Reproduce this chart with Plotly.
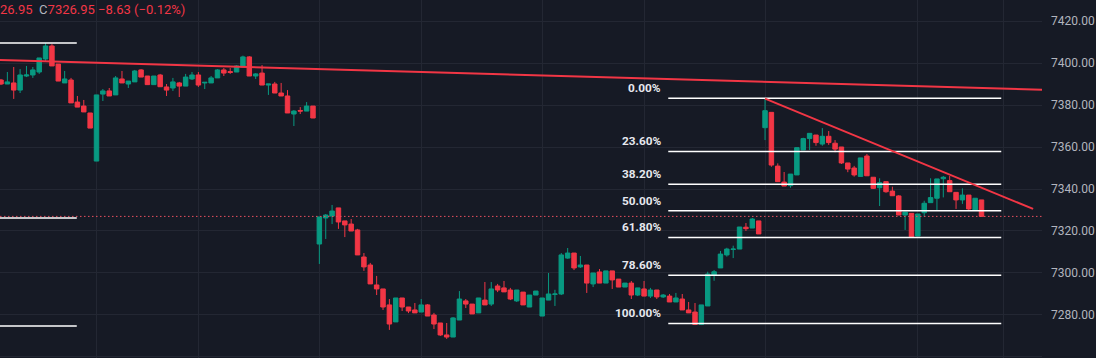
import plotly.graph_objects as go

# ---------------- data ----------------
opens = [7391.9, 7390.0, 7390.5, 7387.1, 7393.8, 7394.3, 7395.7, 7401.9, 7408.1, 7399.5,
         7390.5, 7391.9, 7381.4, 7379.5, 7376.2, 7353.3, 7385.2, 7386.7, 7384.8, 7392.4,
         7390.0, 7391.0, 7396.7, 7393.8, 7389.7, 7394.3, 7388.6, 7388.1, 7390.5, 7389.0,
         7392.4, 7394.3, 7390.5, 7390.5, 7392.9, 7396.7, 7395.9, 7395.7, 7398.1, 7402.9,
         7393.8, 7395.2, 7389.5, 7390.0, 7385.7, 7384.3, 7375.7, 7377.4, 7377.1, 7379.5,
         7313.8, 7326.2, 7327.1, 7331.0, 7324.8, 7323.3, 7320.5, 7307.6, 7303.8, 7294.3,
         7292.4, 7284.8, 7276.7, 7288.1, 7283.8, 7282.4, 7281.4, 7284.8, 7280.0, 7276.2,
         7270.5, 7269.5, 7277.6, 7286.7, 7285.2, 7281.0, 7287.1, 7285.2, 7293.8, 7292.9,
         7291.9, 7286.7, 7290.9, 7283.8, 7289.5, 7279.5, 7287.1, 7289.8, 7290.0, 7307.1,
         7309.5, 7302.9, 7303.8, 7294.8, 7300.5, 7295.2, 7301.0, 7297.1, 7293.3, 7295.2,
         7289.5, 7292.4, 7289.0, 7291.9, 7288.6, 7289.0, 7286.2, 7287.6, 7282.4, 7281.4,
         7275.5, 7284.3, 7299.0, 7302.4, 7308.6, 7311.2, 7311.4, 7321.8, 7321.4, 7324.8,
         7369.2, 7376.5, 7350.9, 7343.3, 7341.6, 7346.7, 7358.6, 7364.0, 7365.7, 7361.4,
         7365.1, 7361.8, 7360.0, 7352.4, 7350.0, 7346.0, 7355.7, 7345.6, 7340.6, 7343.5,
         7339.0, 7336.7, 7327.6, 7328.4, 7317.6, 7328.7, 7333.5, 7335.6, 7344.9, 7344.0,
         7338.4, 7334.8, 7337.1, 7330.0, 7334.8]
highs = [7392.4, 7395.7, 7398.1, 7397.1, 7398.6, 7398.1, 7402.4, 7409.5, 7409.0, 7399.5,
         7396.2, 7392.9, 7384.3, 7382.4, 7376.2, 7384.8, 7387.6, 7388.1, 7393.8, 7396.2,
         7391.4, 7396.7, 7397.1, 7393.8, 7393.8, 7394.8, 7390.0, 7392.9, 7391.0, 7394.8,
         7395.7, 7395.7, 7390.8, 7393.8, 7397.1, 7397.6, 7397.6, 7399.0, 7403.5, 7403.3,
         7395.2, 7399.0, 7390.0, 7391.0, 7390.5, 7387.1, 7377.6, 7379.0, 7381.4, 7379.5,
         7326.7, 7328.1, 7332.4, 7331.0, 7324.8, 7325.7, 7321.0, 7309.5, 7304.8, 7298.6,
         7292.4, 7287.6, 7288.1, 7288.1, 7283.8, 7285.7, 7287.6, 7285.2, 7281.0, 7276.2,
         7276.2, 7279.0, 7291.4, 7287.6, 7285.2, 7288.1, 7295.7, 7295.7, 7294.8, 7296.2,
         7292.9, 7291.9, 7290.9, 7289.5, 7291.4, 7288.1, 7300.0, 7292.0, 7309.5, 7311.9,
         7309.5, 7308.1, 7303.8, 7300.0, 7301.9, 7301.0, 7301.0, 7297.1, 7295.2, 7296.2,
         7292.9, 7296.2, 7292.9, 7291.9, 7290.0, 7290.0, 7290.5, 7290.0, 7286.2, 7285.7,
         7284.8, 7300.6, 7301.4, 7310.5, 7312.0, 7313.0, 7321.9, 7323.8, 7326.2, 7324.8,
         7383.2, 7376.5, 7352.2, 7348.1, 7347.1, 7359.7, 7364.4, 7366.5, 7365.7, 7369.0,
         7367.6, 7363.3, 7360.0, 7352.4, 7351.0, 7354.8, 7356.7, 7345.6, 7345.1, 7343.5,
         7341.1, 7337.1, 7329.0, 7328.4, 7328.1, 7334.4, 7345.1, 7344.8, 7346.2, 7346.2,
         7338.4, 7340.3, 7337.1, 7335.6, 7334.8]
lows = [7389.5, 7390.0, 7382.9, 7385.7, 7393.3, 7392.9, 7394.8, 7400.5, 7398.6, 7391.4,
        7390.5, 7381.0, 7379.0, 7376.7, 7369.0, 7353.3, 7381.9, 7384.3, 7384.8, 7390.5,
        7388.1, 7391.0, 7393.3, 7389.7, 7389.7, 7388.7, 7384.3, 7386.7, 7383.8, 7389.0,
        7391.9, 7388.6, 7387.6, 7390.5, 7392.9, 7393.8, 7394.8, 7395.7, 7398.1, 7393.8,
        7392.4, 7389.5, 7384.8, 7385.7, 7384.3, 7376.2, 7370.0, 7375.7, 7377.1, 7373.8,
        7304.3, 7316.2, 7323.3, 7321.0, 7317.1, 7320.0, 7308.6, 7301.0, 7294.8, 7289.5,
        7282.4, 7272.9, 7276.7, 7281.9, 7280.9, 7281.0, 7281.4, 7279.5, 7273.3, 7270.0,
        7268.6, 7269.5, 7277.6, 7283.3, 7280.5, 7281.0, 7284.8, 7284.3, 7290.9, 7291.0,
        7287.1, 7286.2, 7284.8, 7283.8, 7289.5, 7279.5, 7287.1, 7284.3, 7289.5, 7306.7,
        7301.4, 7302.4, 7290.5, 7293.3, 7295.2, 7295.2, 7292.4, 7293.3, 7293.3, 7287.6,
        7289.0, 7289.0, 7288.1, 7287.6, 7288.1, 7286.2, 7286.2, 7282.4, 7281.0, 7275.2,
        7275.2, 7284.3, 7296.3, 7302.4, 7307.8, 7307.1, 7311.4, 7320.0, 7321.4, 7318.6,
        7363.3, 7350.6, 7343.5, 7341.4, 7340.6, 7346.7, 7358.6, 7358.6, 7360.6, 7360.6,
        7361.0, 7357.5, 7351.9, 7348.0, 7345.9, 7346.0, 7346.3, 7340.0, 7331.9, 7338.2,
        7336.8, 7327.6, 7320.5, 7317.3, 7317.6, 7326.8, 7333.5, 7330.0, 7336.0, 7338.7,
        7330.5, 7332.9, 7330.0, 7330.0, 7326.95]
closes = [7390.0, 7391.0, 7387.1, 7394.3, 7394.3, 7396.7, 7402.4, 7408.1, 7398.6, 7391.4,
          7392.4, 7381.0, 7379.0, 7376.7, 7369.0, 7384.8, 7386.7, 7384.3, 7392.9, 7390.5,
          7391.4, 7396.2, 7393.3, 7389.7, 7393.8, 7388.7, 7387.1, 7391.0, 7389.0, 7393.3,
          7394.3, 7389.5, 7390.8, 7392.9, 7396.7, 7395.2, 7395.5, 7398.6, 7402.9, 7393.8,
          7394.8, 7389.5, 7390.0, 7385.7, 7384.3, 7376.2, 7377.1, 7377.1, 7379.5, 7373.8,
          7326.7, 7327.6, 7329.5, 7324.3, 7322.9, 7320.0, 7308.6, 7302.9, 7294.8, 7292.4,
          7283.8, 7275.7, 7288.1, 7283.8, 7281.9, 7281.0, 7284.8, 7279.5, 7275.7, 7270.5,
          7269.5, 7278.6, 7287.6, 7285.2, 7280.5, 7288.1, 7284.8, 7292.4, 7291.9, 7291.0,
          7287.6, 7291.9, 7284.8, 7289.5, 7291.4, 7288.1, 7290.0, 7290.0, 7308.6, 7309.5,
          7302.4, 7303.8, 7295.2, 7300.0, 7295.2, 7301.0, 7296.7, 7293.3, 7295.2, 7289.5,
          7292.9, 7289.0, 7291.9, 7288.6, 7289.5, 7286.2, 7288.1, 7282.4, 7281.0, 7275.5,
          7284.8, 7299.5, 7300.6, 7309.0, 7311.4, 7311.4, 7321.9, 7321.1, 7325.7, 7318.6,
          7377.3, 7351.4, 7343.5, 7341.4, 7347.1, 7359.7, 7364.0, 7366.5, 7362.1, 7365.1,
          7362.1, 7359.0, 7352.4, 7349.5, 7346.7, 7354.8, 7346.3, 7340.3, 7343.0, 7338.7,
          7336.8, 7327.6, 7329.0, 7317.3, 7328.1, 7333.2, 7335.9, 7344.8, 7345.6, 7338.7,
          7334.8, 7337.1, 7330.5, 7335.6, 7326.95]
bar_index = list(range(1, len(closes) + 1))

y_ticks = [7260, 7280, 7300, 7320, 7340, 7360, 7380, 7400, 7420]
time_grid = [16, 32, 51, 67, 86, 102, 121, 145, 158.4]

fib_high = 7383.2
fib_low = 7276.0
fib_ratios = [0.0, 0.236, 0.382, 0.5, 0.618, 0.786, 1.0]
fib_labels = ["0.00%", "23.60%", "38.20%", "50.00%", "61.80%", "78.60%", "100.00%"]
fib_span = [105.8, 158.1]

left_fib_levels = [7409.5, 7326.2, 7274.8]
left_fib_span = [0.5, 12.9]

trend_long_x = [1, 164.5]
trend_long_y = [7401.4, 7387.3]
trend_short_x = [121, 163.1]
trend_short_y = [7383.0, 7330.5]

last_close = 7326.95
last_low = 7326.95
change = -8.63
change_pct = -0.12

# ---------------- style ----------------
BG = "#161A25"
GRID = "#232733"
UP = "#089981"
DOWN = "#F23645"
TXT = "#B2B5BE"

fig = go.Figure()
fig.add_trace(go.Candlestick(
    x=bar_index, open=opens, high=highs, low=lows, close=closes,
    increasing=dict(line=dict(color=UP, width=1), fillcolor=UP),
    decreasing=dict(line=dict(color=DOWN, width=1), fillcolor=DOWN),
    whiskerwidth=0, hoverinfo="skip", showlegend=False,
))

shapes = []
# current price dotted line
shapes.append(dict(type="line", xref="paper", yref="y", x0=0, x1=1,
                   y0=last_close, y1=last_close,
                   line=dict(color="#E8505F", width=1, dash="1.5px,2.5px")))
# left partial fib
for lv in left_fib_levels:
    shapes.append(dict(type="line", xref="x", yref="y", x0=left_fib_span[0], x1=left_fib_span[1],
                       y0=lv, y1=lv, line=dict(color="#FFFFFF", width=1.5)))
# fib retracement
annotations = []
for r, lab in zip(fib_ratios, fib_labels):
    lv = fib_high - r * (fib_high - fib_low)
    shapes.append(dict(type="line", xref="x", yref="y", x0=fib_span[0], x1=fib_span[1],
                       y0=lv, y1=lv, line=dict(color="#FFFFFF", width=1.5)))
    annotations.append(dict(x=fib_span[0] - 0.8, y=lv, xref="x", yref="y", text=lab,
                            showarrow=False, xanchor="right", yanchor="bottom", yshift=1,
                            font=dict(family="Roboto", size=11.8, color="#E6E8EE", weight="bold")))
# trend lines
shapes.append(dict(type="line", xref="x", yref="y", x0=trend_long_x[0] - 3, x1=trend_long_x[1],
                   y0=trend_long_y[0] + 3 * (trend_long_y[0] - trend_long_y[1]) / (trend_long_x[1] - trend_long_x[0]),
                   y1=trend_long_y[1], line=dict(color=DOWN, width=2)))
shapes.append(dict(type="line", xref="x", yref="y", x0=trend_short_x[0], x1=trend_short_x[1],
                   y0=trend_short_y[0], y1=trend_short_y[1], line=dict(color=DOWN, width=2)))

# header text (OHLC legend, cut at left)
header = (f"<span style='color:{DOWN}'>{str(f'{last_low:.2f}')[2:]}</span>  "
          f"<span style='color:{TXT}'>C</span><span style='color:{DOWN}'>{last_close:.2f}</span> "
          f"<span style='color:{DOWN}'>{change:+.2f} ({change_pct:+.2f}%)</span>")
header = header.replace("-", "\u2212")
annotations.append(dict(x=0, y=1, xref="paper", yref="paper", text=header, showarrow=False,
                        xanchor="left", yanchor="top", yshift=0, xshift=-2,
                        font=dict(family="Roboto", size=13, color=DOWN)))

fig.update_layout(
    width=1096, height=358,
    margin=dict(l=0, r=54, t=0, b=0),
    paper_bgcolor=BG, plot_bgcolor=BG,
    shapes=shapes, annotations=annotations,
    boxgap=0.3, boxgroupgap=0,
    showlegend=False,
    xaxis=dict(range=[0.843, 164.5], rangeslider=dict(visible=False), showticklabels=False,
               tickvals=time_grid, showgrid=True, gridcolor=GRID, gridwidth=1,
               zeroline=False, showline=False, ticks=""),
    yaxis=dict(range=[7259.52, 7430], side="right", tickvals=y_ticks, tickformat=".2f",
               showgrid=True, gridcolor=GRID, gridwidth=1, zeroline=False,
               ticks="", ticklabelstandoff=8,
               tickfont=dict(family="Roboto", size=12, color=TXT)),
)

fig.write_html("out.html", config={"displayModeBar": False},
               post_script="document.body.style.margin='0px';document.body.style.background='#161A25';")
